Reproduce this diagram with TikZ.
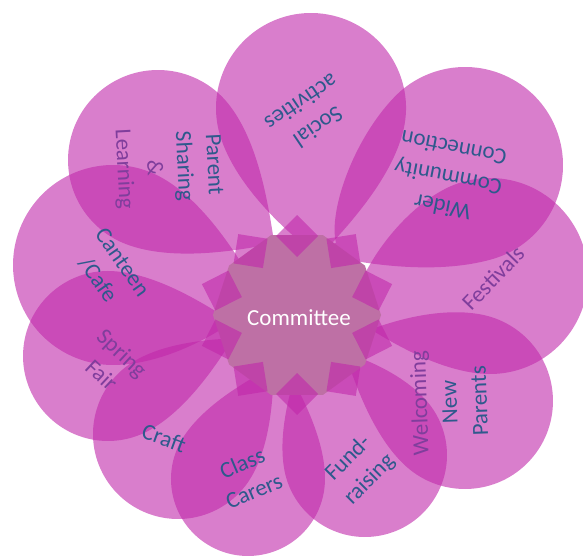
\documentclass[tikz,border=0pt]{standalone}
\usepackage{fontspec}
\setmainfont{Carlito}
\definecolor{petalfill}{RGB}{192,40,170}
\definecolor{petaltext}{RGB}{46,89,140}
\definecolor{hidtext}{RGB}{128,62,156}
\definecolor{hubfill}{RGB}{190,112,165}
% petal: centre x, centre y, radius, angle towards tip, tip distance / radius
\newcommand{\petal}[5]{%
  \pgfmathsetmacro{\ax}{0.259+0.338*#5}\pgfmathsetmacro{\ay}{0.966-0.091*#5}
  \pgfmathsetmacro{\bx}{0.823*#5}\pgfmathsetmacro{\by}{0.177*#5}
  \fill[petalfill, opacity=0.6, shift={(#1,#2)}, rotate=#4, scale=#3]
    (#5,0) .. controls (\bx,-\by) and (\ax,-\ay) .. (0.259,-0.966)
    arc[start angle=-75, end angle=-285, radius=1]
    .. controls (\ax,\ay) and (\bx,\by) .. cycle;
}
\begin{document}
\begin{tikzpicture}[x=1pt, y=-1pt,
  petallabel/.style={text=petaltext, align=center, font=\fontsize{23}{30}\selectfont},
  tooth/.style={fill=petalfill, opacity=0.6}]
  \useasboundingbox (0,0) rectangle (583,556);

  \petal{490}{276}{98}{-168.6}{1.6}
  \petal{465}{401}{88}{152.9}{1.6}
  \petal{365}{455}{82}{115.9}{1.6}
  \petal{248}{479}{77}{73.4}{1.6}
  \petal{108}{356}{85}{12.2}{1.6}
  \petal{178}{434}{85}{45}{1.6}
  \petal{311}{108}{95}{-88}{1.6}
  \petal{158}{160}{90}{-36}{1.6}
  \petal{113}{265}{100}{-15.2}{1.6}
  \petal{465}{165}{98}{-149}{1.75}

  % labels
  \node[petallabel, rotate=46, text=hidtext] (festivals) at (493,278) {Festivals};
  \node[petallabel, rotate=92] (welcoming) at (449,402) {{\color{hidtext}Welcoming}\\New\\Parents};
  \node[petallabel, rotate=45] (fund) at (359,469) {Fund-\\raising};
  \node[petallabel, rotate=23] (class) at (248,477) {Class\\Carers};
  \node[petallabel, rotate=-43, text=hidtext] (spring) at (112,364) {Spring\\Fair};
  \node[petallabel, rotate=-20] (craft) at (164,438) {Craft};
  \node[petallabel, rotate=214] (social) at (310,115) {Social\\activities};
  \node[petallabel, rotate=-87] (parent) at (168,167) {Parent\\Sharing\\{\color{hidtext}\&}\\{\color{hidtext}Learning}};
  \node[petallabel, rotate=-55] (canteen) at (110,271) {Canteen\\/Cafe};
  \node[petallabel, rotate=169] (wider) at (448,178) {Wider\\Community\\Connection};

  % centre
  \begin{scope}[shift={(297,315)}]
    \fill[hubfill] (0:84) \foreach \a in {36,72,...,324} { -- (\a:84) } -- cycle;
    \node[text=white, font=\fontsize{23}{28}\selectfont] (hub) at (2,3) {Committee};
    \foreach \a in {18,54,...,342}
      \fill[tooth, rotate=\a] (58,0) -- (79,21) -- (100,0) -- (79,-21) -- cycle;
  \end{scope}
\end{tikzpicture}
\end{document}
